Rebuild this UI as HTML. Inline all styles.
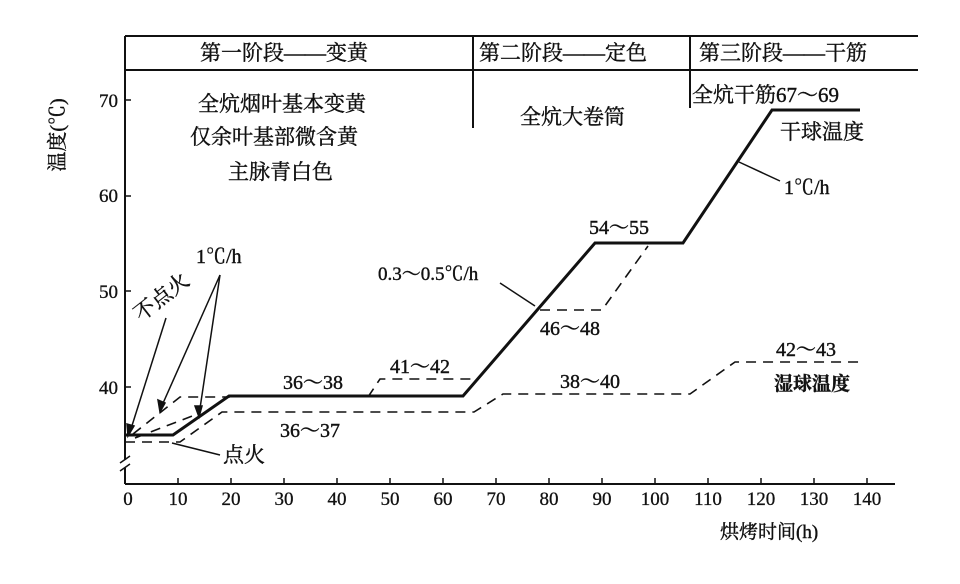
<!DOCTYPE html>
<html><head><meta charset="utf-8"><style>
html,body{margin:0;padding:0;background:#fff;}
svg text{font-family:"Liberation Serif","Noto Serif CJK SC","Noto Sans CJK SC",serif;fill:#111;}
</style></head><body>
<svg width="960" height="579" viewBox="0 0 960 579" xmlns="http://www.w3.org/2000/svg">
<g stroke="#111" fill="none" stroke-width="2">
<line x1="125" y1="36" x2="918" y2="36"/>
<line x1="125" y1="70" x2="918" y2="70"/>
<line x1="473" y1="36" x2="473" y2="128"/>
<line x1="690" y1="36" x2="690" y2="108"/>
<line x1="125" y1="36" x2="125" y2="460"/>
<line x1="125" y1="468" x2="125" y2="484"/>
<path d="M120 463 L130 456 M120 471 L130 464" stroke-width="1.5"/>
<line x1="125" y1="484" x2="895" y2="484"/>
</g>
<g stroke="#111" stroke-width="1.5">
<line x1="125" y1="100" x2="131" y2="100"/><line x1="125" y1="196" x2="131" y2="196"/>
<line x1="125" y1="291" x2="131" y2="291"/><line x1="125" y1="387" x2="131" y2="387"/>
<line x1="178" y1="484" x2="178" y2="478"/><line x1="231" y1="484" x2="231" y2="478"/>
<line x1="284" y1="484" x2="284" y2="478"/><line x1="337" y1="484" x2="337" y2="478"/>
<line x1="390" y1="484" x2="390" y2="478"/><line x1="443" y1="484" x2="443" y2="478"/>
<line x1="496" y1="484" x2="496" y2="478"/><line x1="549" y1="484" x2="549" y2="478"/>
<line x1="602" y1="484" x2="602" y2="478"/><line x1="655" y1="484" x2="655" y2="478"/>
<line x1="708" y1="484" x2="708" y2="478"/><line x1="761" y1="484" x2="761" y2="478"/>
<line x1="814" y1="484" x2="814" y2="478"/><line x1="867" y1="484" x2="867" y2="478"/>
</g>
<polyline points="125,435 173,435 229,396 463,396 595,243 683,243 772,110 860,110" fill="none" stroke="#111" stroke-width="3"/>
<g fill="none" stroke="#111" stroke-width="1.6" stroke-dasharray="10,7">
<polyline points="125,442 180,442 222,412 474,412 503,394 690,394 735,362 862,362"/>
<polyline points="133,434 180,397 230,397"/>
<polyline points="135,438 200,413"/>
<polyline points="368,397 380,379 476,379"/>
<polyline points="540,310 602,310 648,246"/>
</g>
<g stroke="#111" stroke-width="1.5" fill="#111">
<line x1="166" y1="318" x2="130" y2="432"/>
<line x1="220" y1="275" x2="160" y2="410"/>
<line x1="220" y1="275" x2="199" y2="415"/>
<line x1="172" y1="443" x2="220" y2="455"/>
<line x1="535" y1="306" x2="500" y2="283"/>
<line x1="739" y1="162" x2="780" y2="181"/>
<path d="M128 436 L127 424 L134 426 Z"/>
<path d="M160 412 L158 400 L165 403 Z"/>
<path d="M199 417 L195 406 L202 406 Z"/>
</g>
<g font-size="21" stroke="#111" stroke-width="0.4">
<text x="200" y="60">第一阶段——变黄</text>
<text x="479" y="60">第二阶段——定色</text>
<text x="699" y="60">第三阶段——干筋</text>
<text x="198" y="111">全炕烟叶基本变黄</text>
<text x="190" y="144">仅余叶基部微含黄</text>
<text x="228" y="179">主脉青白色</text>
<text x="520" y="124">全炕大卷筒</text>
<text x="692" y="102">全炕干筋67～69</text>
<text x="780" y="139">干球温度</text>
<text x="784" y="194" font-size="20">1℃/h</text>
<text x="196" y="263" font-size="20">1℃/h</text>
<text x="378" y="280" font-size="19">0.3～0.5℃/h</text>
<text x="589" y="234" font-size="20">54～55</text>
<text x="540" y="335" font-size="20">46～48</text>
<text x="390" y="373" font-size="20">41～42</text>
<text x="283" y="389" font-size="20">36～38</text>
<text x="560" y="388" font-size="20">38～40</text>
<text x="280" y="437" font-size="20">36～37</text>
<text x="776" y="356" font-size="20">42～43</text>
<text x="774" y="390" font-size="19" font-weight="bold">湿球温度</text>
<text x="223" y="462">点火</text>
<text transform="translate(141,322) rotate(-38)">不点火</text>
<text x="720" y="538" font-size="19">烘烤时间(h)</text>
<text transform="translate(64,135) rotate(-90)" text-anchor="middle" font-size="20">温度(℃)</text>
</g>
<g font-size="19" text-anchor="end" stroke="#111" stroke-width="0.3">
<text x="118" y="107">70</text><text x="118" y="202">60</text>
<text x="118" y="298">50</text><text x="118" y="394">40</text>
</g>
<g font-size="19" text-anchor="middle" stroke="#111" stroke-width="0.3">
<text x="128" y="505">0</text><text x="178" y="505">10</text><text x="231" y="505">20</text>
<text x="284" y="505">30</text><text x="337" y="505">40</text><text x="390" y="505">50</text>
<text x="443" y="505">60</text><text x="496" y="505">70</text><text x="549" y="505">80</text>
<text x="602" y="505">90</text><text x="655" y="505">100</text><text x="708" y="505">110</text>
<text x="761" y="505">120</text><text x="814" y="505">130</text><text x="867" y="505">140</text>
</g>
</svg>
</body></html>
